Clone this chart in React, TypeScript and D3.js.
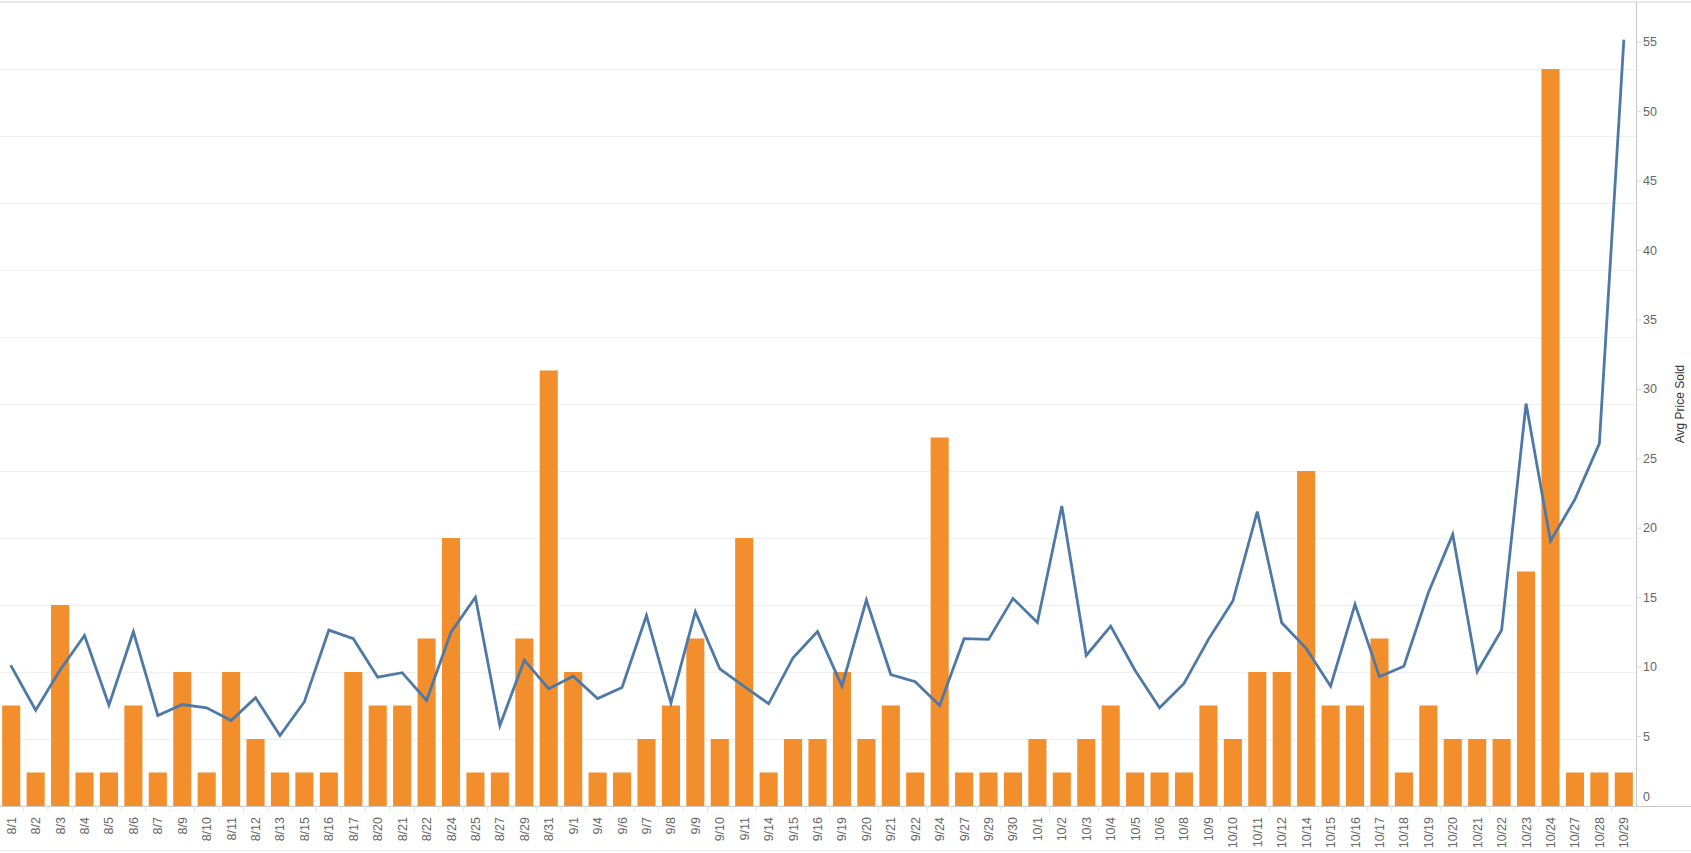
import React from "react";
import * as d3 from "d3";

const dates = [
  "8/1","8/2","8/3","8/4","8/5","8/6","8/7","8/9","8/10","8/11","8/12","8/13","8/15","8/16","8/17","8/20","8/21","8/22","8/24","8/25","8/27","8/29","8/31",
  "9/1","9/4","9/6","9/7","9/8","9/9","9/10","9/11","9/14","9/15","9/16","9/19","9/20","9/21","9/22","9/24","9/27","9/29","9/30",
  "10/1","10/2","10/3","10/4","10/5","10/6","10/8","10/9","10/10","10/11","10/12","10/14","10/15","10/16","10/17","10/18","10/19","10/20","10/21","10/22","10/23","10/24","10/27","10/28","10/29",
];

const soldCount = [
  3,1,6,1,1,3,1,4,1,4,2,1,1,1,4,3,3,5,8,1,1,5,13,
  4,1,1,2,3,5,2,8,1,2,2,4,2,3,1,11,1,1,1,
  2,1,2,3,1,1,1,3,2,4,4,10,3,3,5,1,3,2,2,2,7,22,1,1,1,
];

const avgPrice = [
  10.07,6.9,9.8,12.28,7.26,12.55,6.52,7.31,7.07,6.16,7.8,5.08,7.51,12.67,12.05,9.28,9.6,7.6,12.52,15.04,5.8,10.5,8.44,
  9.35,7.74,8.54,13.72,7.43,13.99,9.88,8.62,7.36,10.68,12.57,8.63,14.83,9.47,8.95,7.24,12.05,12.0,14.95,
  13.22,21.6,10.84,12.95,9.76,7.07,8.83,12.0,14.76,21.2,13.2,11.35,8.63,14.52,9.31,10.07,15.36,19.56,9.67,12.67,28.98,19.08,22.08,26.1,55.1,
];

const priceTicks = [0, 5, 10, 15, 20, 25, 30, 35, 40, 45, 50, 55];
const countGrid = [2, 4, 6, 8, 10, 12, 14, 16, 18, 20, 22];

const W = 1691;
const H = 853;
const plotLeft = -1;
const plotRight = 1636;
const plotTop = 2;
const plotBottom = 806;

export default function App() {
  const x = d3.scaleBand<string>().domain(dates).range([plotLeft, plotRight]).paddingInner(0.26).paddingOuter(0.13);
  const yCount = d3.scaleLinear().domain([0, 24]).range([plotBottom, plotTop]);
  const yPrice = d3.scaleLinear().domain([0, 57.9]).range([plotBottom, plotTop]);
  const step = x.step();
  const line = d3
    .line<number>()
    .x((_, i) => (x(dates[i]) as number) + x.bandwidth() / 2)
    .y((d) => yPrice(d));

  const font = "'Liberation Sans', Arial, sans-serif";

  return (
    <div style={{ position: "absolute", left: 0, top: 0 }}>
      <svg width={W} height={H} style={{ display: "block", background: "#fff" }}>
        <line x1={0} x2={W} y1={plotTop} y2={plotTop} stroke="#d4d4d4" strokeWidth={1} />
        {countGrid.map((c) => (
          <line key={c} x1={0} x2={plotRight} y1={Math.round(yCount(c)) + 0.5} y2={Math.round(yCount(c)) + 0.5} stroke="#efefef" strokeWidth={1} />
        ))}
        {soldCount.map((c, i) => (
          <rect
            key={dates[i]}
            x={x(dates[i])}
            y={yCount(c)}
            width={x.bandwidth()}
            height={plotBottom - yCount(c)}
            fill="#f28e2b"
          />
        ))}
        <path d={line(avgPrice) || ""} fill="none" stroke="#4e79a7" strokeWidth={2.8} strokeLinejoin="miter" strokeLinecap="round" />
        <line x1={0} x2={W} y1={plotBottom + 0.5} y2={plotBottom + 0.5} stroke="#c8c8c8" strokeWidth={1} />
        {dates.map((d, i) => {
          const bx = plotLeft + step * (i + 1);
          return <line key={"s" + d} x1={bx} x2={bx} y1={plotBottom} y2={plotBottom + 6} stroke="#e6e6e6" strokeWidth={1} />;
        })}
        {dates.map((d) => {
          const cx = (x(d) as number) + x.bandwidth() / 2;
          return (
            <text
              key={"l" + d}
              transform={`translate(${cx + 4.5},${plotBottom + 11}) rotate(-90)`}
              textAnchor="end"
              fontFamily={font}
              fontSize={12.5}
              fill="#666"
            >
              {d}
            </text>
          );
        })}
        <line x1={plotRight + 0.5} x2={plotRight + 0.5} y1={plotTop} y2={plotBottom} stroke="#c8c8c8" strokeWidth={1} />
        {priceTicks.map((t) => {
          const ty = yPrice(t);
          return (
            <g key={"t" + t}>
              {t > 0 && <line x1={plotRight} x2={plotRight + 5} y1={ty} y2={ty} stroke="#d8d8d8" strokeWidth={1} />}
              <text
                x={plotRight + 7}
                y={t === 0 ? ty - 9 : ty}
                dominantBaseline="central"
                fontFamily={font}
                fontSize={12.5}
                fill="#666"
              >
                {t}
              </text>
            </g>
          );
        })}
        <text
          transform={`translate(${1680},${404}) rotate(-90)`}
          textAnchor="middle"
          dominantBaseline="central"
          fontFamily={font}
          fontSize={12}
          fill="#333"
        >
          Avg Price Sold
        </text>
        <line x1={0} x2={W} y1={850.5} y2={850.5} stroke="#ececec" strokeWidth={1} />
      </svg>
    </div>
  );
}
